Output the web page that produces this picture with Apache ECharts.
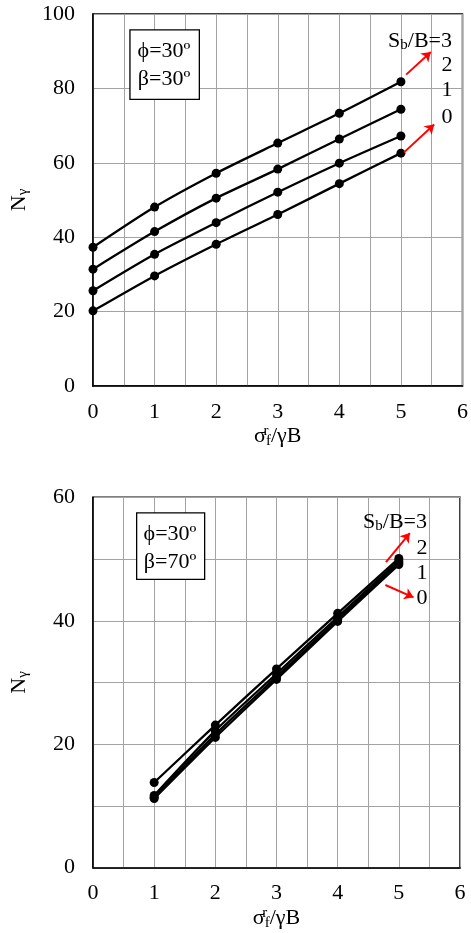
<!DOCTYPE html>
<html>
<head>
<meta charset="utf-8">
<script src="https://cdn.jsdelivr.net/npm/echarts@6/dist/echarts.min.js"></script>
<style>
  html, body { margin: 0; padding: 0; background: #fff; }
  #c { width: 471px; height: 933px; }
</style>
</head>
<body>
<div id="c"></div>
<script>
// ---- data: N_gamma vs sigma_f^r / (gamma B), phi = 30 deg ----
// beta = 30 deg panel
const xTop = [0, 1, 2, 3, 4, 5];
const topSb0 = [20.2, 29.6, 38.1, 46.1, 54.4, 62.6];
const topSb1 = [25.6, 35.4, 43.9, 52.1, 59.9, 67.2];
const topSb2 = [31.4, 41.5, 50.5, 58.3, 66.4, 74.4];
const topSb3 = [37.3, 48.1, 57.2, 65.3, 73.3, 81.8];

// beta = 70 deg panel
const xBot = [1, 2, 3, 4, 5];
const botSb0 = [11.2, 21.1, 30.5, 39.9, 49.1];
const botSb1 = [11.4, 21.6, 30.9, 40.2, 49.4];
const botSb2 = [11.7, 22.2, 31.4, 40.6, 49.7];
const botSb3 = [13.8, 23.1, 32.2, 41.2, 50.1];

// axis ranges / tick labels
const xTicks = [0, 1, 2, 3, 4, 5, 6];
const yTopTicks = [0, 20, 40, 60, 80, 100];
const yBotTicks = [0, 20, 40, 60];

// red arrows indicating increasing S_b/B (data coordinates: [from, to])
const topArrows = [[[5.085, 83.7], [5.486, 89.8]], [[5.05, 62.8], [5.54, 70.3]]];
const botArrows = [[[4.79, 49.5], [5.18, 54.2]], [[4.78, 45.8], [5.24, 43.8]]];

const FONT = "'Liberation Serif', 'Times New Roman', 'DejaVu Serif', serif";
const FS = 22;
const FS_SMALL = 15;
const GRID_COLOR = '#a3a3a3';

const pairs = (xs, ys) => xs.map((x, i) => [x, ys[i]]);

function xAxisCfg(gridIndex) {
  return {
    gridIndex, type: 'value', min: xTicks[0], max: xTicks[xTicks.length - 1], interval: 1,
    axisLine: { show: true, lineStyle: { color: '#000', width: 1.5 } },
    axisTick: { show: false },
    axisLabel: { color: '#000', fontSize: FS, fontFamily: FONT, margin: 15 },
    splitLine: { show: true, lineStyle: { color: GRID_COLOR, width: 1 } },
    minorTick: { show: false, splitNumber: 2 },
    minorSplitLine: { show: true, lineStyle: { color: GRID_COLOR, width: 1 } },
    name: '{a|σ}{sup|r}{sub|f}{a|/γB}',
    nameLocation: 'middle', nameGap: 35,
    nameTextStyle: {
      rich: {
        a: { fontSize: FS, fontFamily: FONT, color: '#000' },
        sup: { fontSize: FS_SMALL, fontFamily: FONT, color: '#000', verticalAlign: 'top', width: 0.1, padding: [0, 0, 10, 0] },
        sub: { fontSize: FS_SMALL, fontFamily: FONT, color: '#000', verticalAlign: 'bottom', padding: [10, 0, 0, 0] }
      }
    }
  };
}

function yAxisCfg(gridIndex, ticks, minorSplit) {
  return {
    gridIndex, type: 'value', min: ticks[0], max: ticks[ticks.length - 1], interval: 20,
    axisLine: { show: true, lineStyle: { color: '#000', width: 1.5 } },
    axisTick: { show: false },
    axisLabel: { color: '#000', fontSize: FS, fontFamily: FONT, margin: 18 },
    splitLine: { show: true, lineStyle: { color: GRID_COLOR, width: 1 } },
    minorTick: { show: false, splitNumber: 2 },
    minorSplitLine: { show: minorSplit, lineStyle: { color: GRID_COLOR, width: 1 } },
    name: '{a|N}{sub|γ}',
    nameLocation: 'middle', nameGap: 62, nameRotate: 90,
    nameTextStyle: {
      rich: {
        a: { fontSize: FS, fontFamily: FONT, color: '#000' },
        sub: { fontSize: FS_SMALL, fontFamily: FONT, color: '#000', verticalAlign: 'bottom', padding: [9, 0, 0, 0] }
      }
    }
  };
}

function lineSeries(gridIdx, xs, ys, arrows) {
  const s = {
    type: 'line', xAxisIndex: gridIdx, yAxisIndex: gridIdx,
    data: pairs(xs, ys), smooth: 0.25,
    symbol: 'circle', symbolSize: 9,
    lineStyle: { color: '#000', width: 2.3 },
    itemStyle: { color: '#000' },
    z: 3
  };
  if (arrows) {
    s.markLine = {
      silent: true, symbol: ['none', 'arrow'], symbolSize: 9,
      label: { show: false },
      lineStyle: { color: '#ff0000', width: 2, type: 'solid' },
      data: arrows.map(a => [{ coord: a[0] }, { coord: a[1] }])
    };
  }
  return s;
}

const boxText = (x, y, w, h, lines) => [
  { type: 'rect', left: x, top: y, shape: { width: w, height: h },
    style: { fill: '#fff', stroke: '#000', lineWidth: 1.3 }, z: 10 },
  { type: 'text', x: x + w / 2, y: y + 22, z: 11,
    style: { text: lines[0], font: FS + 'px ' + FONT, fill: '#000', align: 'center', verticalAlign: 'middle' } },
  { type: 'text', x: x + w / 2, y: y + 50, z: 11,
    style: { text: lines[1], font: FS + 'px ' + FONT, fill: '#000', align: 'center', verticalAlign: 'middle' } }
];

const richLegend = {
  a: { fontSize: FS, fontFamily: FONT, color: '#000' },
  sub: { fontSize: FS_SMALL, fontFamily: FONT, color: '#000', verticalAlign: 'bottom', padding: [9, 0, 0, 0] }
};
const sbLabel = (rightX, cy, txt) => ({
  type: 'text', x: rightX, y: cy, z: 11,
  style: { text: txt, rich: richLegend, align: 'right', verticalAlign: 'middle', font: FS + 'px ' + FONT, fill: '#000' }
});
const numLabel = (cx, cy, txt) => ({
  type: 'text', x: cx, y: cy, z: 11,
  style: { text: txt, align: 'center', verticalAlign: 'middle', font: FS + 'px ' + FONT, fill: '#000' }
});

const chart = echarts.init(document.getElementById('c'), null, { renderer: 'canvas' });
chart.setOption({
  animation: false,
  backgroundColor: '#fff',
  grid: [
    { left: 91.7, top: 14, width: 374.3, height: 372, show: true, borderColor: '#000', borderWidth: 1.5, backgroundColor: 'transparent' },
    { left: 87.7, top: 497.3, width: 372.3, height: 370.4, show: true, borderColor: '#000', borderWidth: 1.5, backgroundColor: 'transparent' }
  ],
  xAxis: [xAxisCfg(0), xAxisCfg(1)],
  yAxis: [yAxisCfg(0, yTopTicks, false), yAxisCfg(1, yBotTicks, true)],
  series: [
    lineSeries(0, xTop, topSb0, topArrows),
    lineSeries(0, xTop, topSb1),
    lineSeries(0, xTop, topSb2),
    lineSeries(0, xTop, topSb3),
    lineSeries(1, xBot, botSb0, botArrows),
    lineSeries(1, xBot, botSb1),
    lineSeries(1, xBot, botSb2),
    lineSeries(1, xBot, botSb3)
  ],
  graphic: [
    ...boxText(129.3, 29.3, 69.4, 69.4, ['ϕ=30º', 'β=30º']),
    sbLabel(452, 41, '{a|S}{sub|b}{a|/B=3}'),
    numLabel(447, 65, '2'),
    numLabel(447, 90, '1'),
    numLabel(447, 117, '0'),
    ...boxText(136, 512.3, 68, 66.4, ['ϕ=30º', 'β=70º']),
    sbLabel(427, 522, '{a|S}{sub|b}{a|/B=3}'),
    numLabel(422, 548, '2'),
    numLabel(422, 573, '1'),
    numLabel(422, 598, '0')
  ]
});
</script>
</body>
</html>
